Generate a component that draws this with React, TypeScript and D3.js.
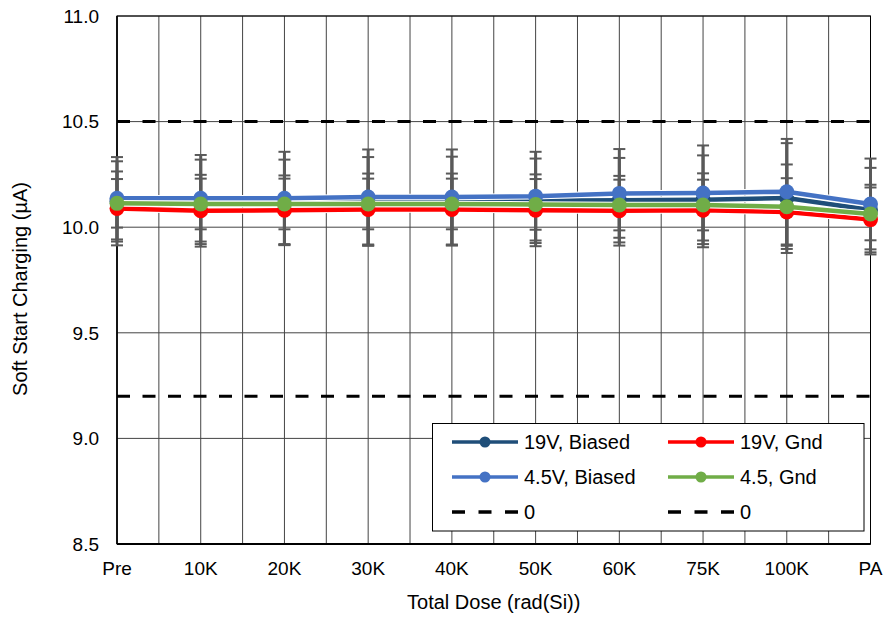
import React from "react";
import * as d3 from "d3";

const categories = ["Pre", "10K", "20K", "30K", "40K", "50K", "60K", "75K", "100K", "PA"];
const yTicks = [8.5, 9.0, 9.5, 10.0, 10.5, 11.0];

const v19Biased = [10.122, 10.12, 10.12, 10.122, 10.124, 10.125, 10.128, 10.13, 10.138, 10.081];
const v19Gnd = [10.089, 10.078, 10.08, 10.084, 10.084, 10.08, 10.078, 10.08, 10.072, 10.036];
const v45Biased = [10.137, 10.137, 10.137, 10.143, 10.143, 10.147, 10.16, 10.162, 10.168, 10.11];
const v45Gnd = [10.113, 10.11, 10.11, 10.11, 10.11, 10.108, 10.105, 10.105, 10.097, 10.063];

const e19Biased = [0.19, 0.2, 0.2, 0.21, 0.21, 0.2, 0.2, 0.21, 0.26, 0.2];
const e19Gnd = [0.175, 0.17, 0.165, 0.17, 0.17, 0.17, 0.165, 0.175, 0.16, 0.165];
const e45Biased = [0.195, 0.205, 0.22, 0.225, 0.225, 0.21, 0.21, 0.225, 0.25, 0.215];
const e45Gnd = [0.115, 0.12, 0.12, 0.12, 0.12, 0.12, 0.12, 0.12, 0.2, 0.125];

const limits = [10.5, 9.2];

const series = [
  { name: "19V, Biased", values: v19Biased, err: e19Biased, color: "#1F4E79" },
  { name: "19V, Gnd", values: v19Gnd, err: e19Gnd, color: "#FF0000" },
  { name: "4.5V, Biased", values: v45Biased, err: e45Biased, color: "#4472C4" },
  { name: "4.5, Gnd", values: v45Gnd, err: e45Gnd, color: "#70AD47" },
];

const W = 885;
const H = 617;
const L = 117;
const R = 870.5;
const T = 16;
const B = 544;
const FONT = "Arial, 'Liberation Sans', sans-serif";

export default function App() {
  const x = d3.scalePoint<string>().domain(categories).range([L, R]).padding(0);
  const y = d3.scaleLinear().domain([8.5, 11.0]).range([B, T]);
  const step = x.step();

  const vLines: number[] = [];
  categories.forEach((c, i) => {
    vLines.push(x(c)!);
    if (i < categories.length - 1) vLines.push(x(c)! + step / 2);
  });

  const line = d3
    .line<number>()
    .x((_, i) => x(categories[i])!)
    .y((d) => y(d));

  const legendRows = [
    [series[0], series[1]],
    [series[2], series[3]],
  ];
  const colX = [452, 668];
  const rowY = [442, 477, 512];

  return (
    <svg width={W} height={H} style={{ position: "absolute", left: 0, top: 0 }} fontFamily={FONT}>
      <rect x={0} y={0} width={W} height={H} fill="#fff" />
      {/* gridlines */}
      {yTicks.map((t) => (
        <line key={"h" + t} x1={L} x2={R} y1={y(t)} y2={y(t)} stroke="#444" strokeWidth={1} />
      ))}
      {vLines.map((vx, i) => (
        <line key={"v" + i} x1={vx} x2={vx} y1={T} y2={B} stroke="#444" strokeWidth={1} />
      ))}
      <rect x={L} y={T} width={R - L} height={B - T} fill="none" stroke="#000" strokeWidth={1} />
      <line x1={L} x2={L} y1={T} y2={B} stroke="#000" strokeWidth={1.5} />
      <line x1={L} x2={R} y1={B} y2={B} stroke="#000" strokeWidth={2} />
      {/* limit lines */}
      {limits.map((l) => (
        <line key={"lim" + l} x1={L} x2={R} y1={y(l)} y2={y(l)} stroke="#000" strokeWidth={3} strokeDasharray="13,12.5" />
      ))}
      {/* error bars */}
      {series.map((s) =>
        s.values.map((v, i) => {
          const cx = x(categories[i])!;
          const y1 = y(v + s.err[i]);
          const y2 = y(v - s.err[i]);
          return (
            <g key={s.name + "e" + i} stroke="#595959">
              <line x1={cx} x2={cx} y1={y1} y2={y2} strokeWidth={3} />
              <line x1={cx - 6} x2={cx + 6} y1={y1} y2={y1} strokeWidth={2} />
              <line x1={cx - 6} x2={cx + 6} y1={y2} y2={y2} strokeWidth={2} />
            </g>
          );
        })
      )}
      {/* series */}
      {series.map((s) => (
        <g key={s.name}>
          <path d={line(s.values)!} fill="none" stroke="#fff" strokeWidth={6.5} strokeLinejoin="round" />
          <path d={line(s.values)!} fill="none" stroke={s.color} strokeWidth={4.5} strokeLinejoin="round" />
          {s.values.map((v, i) => (
            <circle key={i} cx={x(categories[i])!} cy={y(v)} r={7.5} fill={s.color} />
          ))}
        </g>
      ))}
      {/* y ticks */}
      {yTicks.map((t) => (
        <text key={"yt" + t} x={99} y={y(t) + 6.8} textAnchor="end" fontSize={19} fill="#000">
          {t.toFixed(1)}
        </text>
      ))}
      {/* x ticks */}
      {categories.map((c) => (
        <text key={"xt" + c} x={x(c)!} y={575} textAnchor="middle" fontSize={19} fill="#000">
          {c}
        </text>
      ))}
      <text x={(L + R) / 2} y={608.5} textAnchor="middle" fontSize={20} fill="#000">
        Total Dose (rad(Si))
      </text>
      <text
        transform={`translate(26.5,289) rotate(-90)`}
        textAnchor="middle"
        fontSize={20}
        fill="#000"
      >
        Soft Start Charging (µA)
      </text>
      {/* legend */}
      <rect x={432.5} y={423.5} width={431.5} height={107.5} fill="#fff" stroke="#000" strokeWidth={1} />
      {legendRows.map((row, ri) =>
        row.map((s, ci) => (
          <g key={s.name}>
            <line x1={colX[ci]} x2={colX[ci] + 66} y1={rowY[ri]} y2={rowY[ri]} stroke={s.color} strokeWidth={3.5} />
            <circle cx={colX[ci] + 33} cy={rowY[ri]} r={5.5} fill={s.color} />
            <text x={colX[ci] + 72} y={rowY[ri] + 7} fontSize={20} fill="#000">
              {s.name}
            </text>
          </g>
        ))
      )}
      {colX.map((cx, ci) => (
        <g key={"ld" + ci}>
          <line x1={cx} x2={cx + 66} y1={rowY[2]} y2={rowY[2]} stroke="#000" strokeWidth={3.5} strokeDasharray="13,13.5" />
          <text x={cx + 72} y={rowY[2] + 7} fontSize={20} fill="#000">
            0
          </text>
        </g>
      ))}
    </svg>
  );
}
